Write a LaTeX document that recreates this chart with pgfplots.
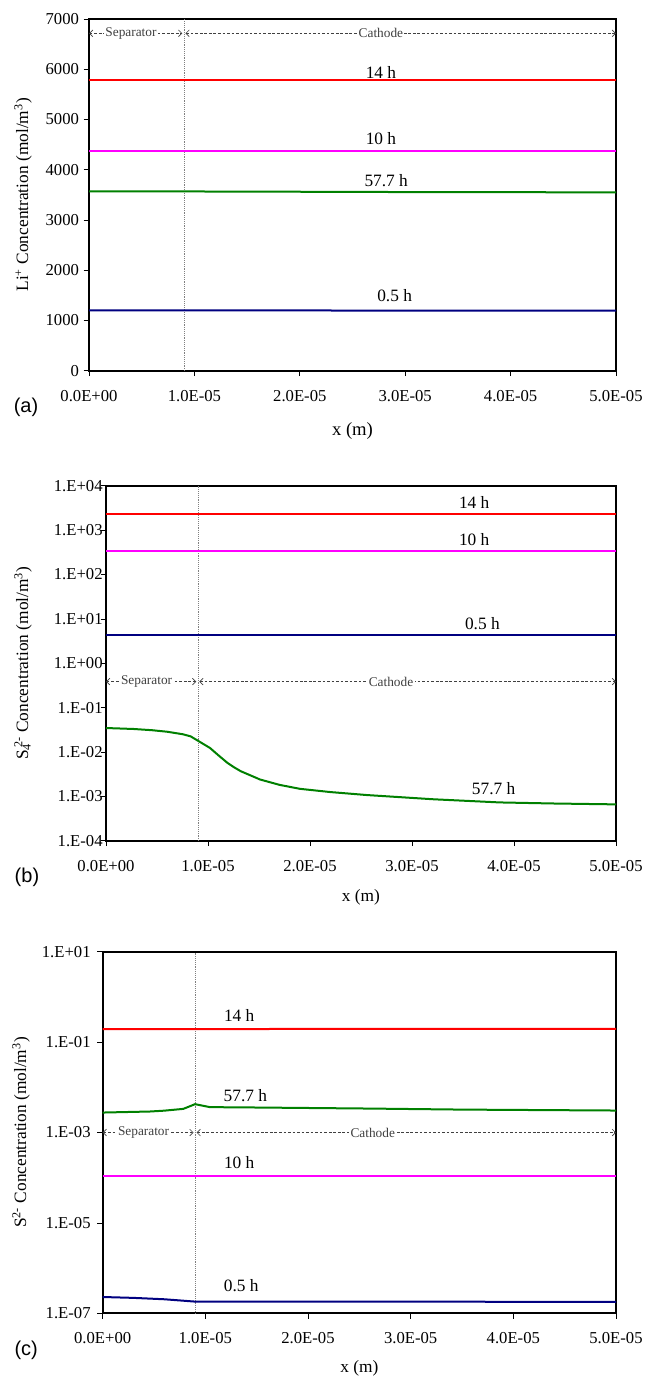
\documentclass[border=0pt]{standalone}
\usepackage{fontspec}
\setmainfont{Liberation Serif}
\newfontfamily\arial{Liberation Sans}
\usepackage{pgfplots}
\pgfplotsset{compat=1.18}
\usetikzlibrary{arrows.meta}

\definecolor{cred}{RGB}{255,0,0}
\definecolor{cmag}{RGB}{255,0,255}
\definecolor{cgreen}{RGB}{0,128,0}
\definecolor{cnavy}{RGB}{0,0,128}

\tikzset{
  region/.style={darkgray, line width=0.5pt, dash pattern=on 2pt off 1.4pt,
    {Straight Barb[length=2.5pt,width=5pt]}-{Straight Barb[length=2.5pt,width=5pt]}},
  regtext/.style={fill=white, inner sep=1pt, font=\fontsize{10}{12}\selectfont},
  tlab/.style={font=\fontsize{13}{15}\selectfont},
  plab/.style={font=\arial\fontsize{15}{17}\selectfont},
}

\pgfplotsset{
  panel/.style={
    scale only axis, clip=false,
    xmin=0, xmax=5e-5,
    xtick={0,1e-5,2e-5,3e-5,4e-5,5e-5},
    xticklabels={0.0E+00,1.0E-05,2.0E-05,3.0E-05,4.0E-05,5.0E-05},
    scaled x ticks=false, scaled y ticks=false,
    tick align=outside, tick pos=left,
    major tick length=4pt,
    every tick/.style={black, line width=0.5pt},
    axis line style={line width=1.6pt},
    tick label style={font=\fontsize{12.5}{14}\selectfont},
    label style={font=\fontsize{13}{15}\selectfont},
    xticklabel style={yshift=-7pt},
    yminorticks=false,
    xlabel={x (m)},
  },
  fourteen/.style={color=cred, line width=1.5pt},
  ten/.style={color=cmag, line width=1.5pt},
  fiftyseven/.style={color=cgreen, line width=1.5pt},
  half/.style={color=cnavy, line width=1.5pt},
  sep/.style={gray, densely dotted, line width=0.4pt},
}

\begin{document}
\begin{tikzpicture}
\useasboundingbox (0,0) rectangle (484.5pt,-1032.75pt);

% (a) Li+
\begin{axis}[panel,
    at={(66.75pt,-14.25pt)}, anchor=north west,
    width=395.25pt, height=263.8pt,
    ymin=0, ymax=7000,
    ytick={0,1000,2000,3000,4000,5000,6000,7000},
    yticklabels={0,1000,2000,3000,4000,5000,6000,7000},
    ylabel={Li\textsuperscript{+} Concentration (mol/m\textsuperscript{3})},
    ylabel style={at={(axis description cs:-0.125,0.5)}, anchor=center},
    xlabel style={at={(axis description cs:0.5,-0.171)}, anchor=center, font=\fontsize{14}{16}\selectfont},
  ]
  \addplot[sep] coordinates {(9e-6,0) (9e-6,7000)};
  \addplot[fourteen] coordinates {(0,5780) (5e-5,5780)};
  \addplot[ten] coordinates {(0,4365) (5e-5,4365)};
  \addplot[fiftyseven] coordinates {(0,3570) (9e-6,3568) (2e-5,3562) (3e-5,3556) (5e-5,3550)};
  \addplot[half] coordinates {(0,1200) (5e-5,1197)};
  \draw[region] (axis cs:0,6715) -- node[regtext, pos=0.45]{Separator} (axis cs:0.885e-5,6715);
  \draw[region] (axis cs:0.915e-5,6715) -- node[regtext, pos=0.454]{Cathode} (axis cs:5e-5,6715);
  \node[tlab] at (axis cs:2.77e-5,5939) {14 h};
  \node[tlab] at (axis cs:2.77e-5,4630) {10 h};
  \node[tlab] at (axis cs:2.82e-5,3782) {57.7 h};
  \node[tlab] at (axis cs:2.9e-5,1487) {0.5 h};
  \node[plab] at (axis description cs:-0.1195,-0.103) {(a)};
\end{axis}

% (b) S4 2-
\begin{axis}[panel,
    at={(79.5pt,-364.3pt)}, anchor=north west,
    width=382.5pt, height=266.25pt,
    ymode=log, ymin=1e-4, ymax=1e4,
    ytick={1e-4,1e-3,1e-2,1e-1,1,1e1,1e2,1e3,1e4},
    yticklabels={1.E-04,1.E-03,1.E-02,1.E-01,1.E+00,1.E+01,1.E+02,1.E+03,1.E+04},
    yticklabel style={xshift=5pt},
    ylabel={S\textsubscript{4}\kern-0.25em\textsuperscript{2-} Concentration (mol/m\textsuperscript{3})},
    ylabel style={at={(axis description cs:-0.1627,0.5)}, anchor=center},
    xlabel style={at={(axis description cs:0.5,-0.159)}, anchor=center},
  ]
  \addplot[sep] coordinates {(9e-6,1e-4) (9e-6,1e4)};
  \addplot[fourteen] coordinates {(0,2300) (5e-5,2300)};
  \addplot[ten] coordinates {(0,330) (5e-5,330)};
  \addplot[half] coordinates {(0,4.35) (5e-5,4.35)};
  \addplot[fiftyseven] coordinates {
    (0,0.0347) (0.27e-5,0.033) (0.45e-5,0.031) (0.6e-5,0.0286) (0.75e-5,0.0252)
    (0.83e-5,0.0225) (0.9e-5,0.018) (1.02e-5,0.0123) (1.1e-5,0.0085) (1.19e-5,0.0057)
    (1.25e-5,0.0046) (1.32e-5,0.0037) (1.51e-5,0.0024) (1.7e-5,0.00182) (1.9e-5,0.00148)
    (2.2e-5,0.00125) (2.56e-5,0.00107) (3.21e-5,0.00086) (3.86e-5,0.00073) (4.4e-5,0.00069) (5e-5,0.00066)};
  \draw[region] (axis cs:0,0.386) -- node[regtext, pos=0.45]{Separator} (axis cs:0.885e-5,0.386);
  \draw[region] (axis cs:0.915e-5,0.386) -- node[regtext, pos=0.46]{Cathode} (axis cs:5e-5,0.386);
  \node[tlab] at (axis cs:3.61e-5,4220) {14 h};
  \node[tlab] at (axis cs:3.61e-5,598) {10 h};
  \node[tlab] at (axis cs:3.69e-5,7.69) {0.5 h};
  \node[tlab] at (axis cs:3.8e-5,1.5e-3) {57.7 h};
  \node[plab] at (axis description cs:-0.155,-0.102) {(b)};
\end{axis}

% (c) S 2-
\begin{axis}[panel,
    at={(77pt,-713.8pt)}, anchor=north west,
    width=385pt, height=271.2pt,
    ymode=log, ymin=1e-7, ymax=1e1,
    ytick={1e-7,1e-5,1e-3,1e-1,1e1},
    yticklabels={1.E-07,1.E-05,1.E-03,1.E-01,1.E+01},
    yticklabel style={xshift=-1.5pt},
    ylabel={S\textsuperscript{2-} Concentration (mol/m\textsuperscript{3})},
    ylabel style={at={(axis description cs:-0.159,0.5)}, anchor=center},
    xlabel style={at={(axis description cs:0.5,-0.151)}, anchor=center},
  ]
  \addplot[sep] coordinates {(9e-6,1e-7) (9e-6,1e1)};
  \addplot[fourteen] coordinates {(0,0.193) (2e-5,0.196) (5e-5,0.197)};
  \addplot[fiftyseven] coordinates {
    (0,2.77e-3) (0.46e-5,2.92e-3) (0.6e-5,3.05e-3) (0.785e-5,3.34e-3) (0.9e-5,4.25e-3)
    (1.045e-5,3.65e-3) (1.5e-5,3.58e-3) (2.57e-5,3.4e-3) (3.5e-5,3.22e-3) (5e-5,3.07e-3)};
  \addplot[ten] coordinates {(0,1.07e-4) (5e-5,1.07e-4)};
  \addplot[half] coordinates {(0,2.3e-7) (0.3e-5,2.2e-7) (0.6e-5,2.05e-7) (0.9e-5,1.82e-7) (5e-5,1.8e-7)};
  \draw[region] (axis cs:0,1e-3) -- node[regtext, pos=0.45]{Separator} (axis cs:0.885e-5,1e-3);
  \draw[region] (axis cs:0.915e-5,1e-3) -- node[regtext, pos=0.42]{Cathode} (axis cs:5e-5,1e-3);
  \node[tlab] at (axis cs:1.33e-5,0.397) {14 h};
  \node[tlab] at (axis cs:1.39e-5,6.6e-3) {57.7 h};
  \node[tlab] at (axis cs:1.33e-5,2.18e-4) {10 h};
  \node[tlab] at (axis cs:1.35e-5,4.2e-7) {0.5 h};
  \node[plab] at (axis description cs:-0.149,-0.101) {(c)};
\end{axis}
\end{tikzpicture}
\end{document}
